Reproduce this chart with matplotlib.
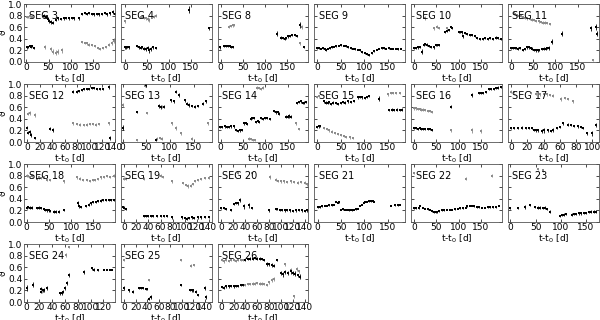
import matplotlib
matplotlib.use("Agg")
import matplotlib.pyplot as plt

# ---- data: (t, theta, err) for the black (primary) and gray (secondary) series ----
seg3_black = [(2,0.25,0.02),(5,0.26,0.02),(8,0.27,0.02),(11,0.26,0.02),(14,0.27,0.02),(18,0.24,0.02),
              (40,0.80,0.02),(45,0.78,0.02),(48,0.74,0.03),(52,0.71,0.03),(56,0.69,0.03),(60,0.68,0.03),
              (66,0.73,0.02),(72,0.75,0.02),(78,0.74,0.02),(84,0.75,0.02),(90,0.76,0.02),(96,0.75,0.02),
              (102,0.76,0.02),(108,0.75,0.02),(118,0.75,0.02),
              (126,0.83,0.02),(131,0.84,0.02),(136,0.83,0.02),(141,0.84,0.02),(147,0.83,0.02),(153,0.82,0.02),
              (158,0.83,0.02),(164,0.82,0.02),(170,0.83,0.02),(176,0.84,0.02),(182,0.82,0.02),
              (188,0.84,0.03),(194,0.86,0.04),(200,0.82,0.03),(206,0.84,0.04),(210,0.82,0.03)]
seg3_gray = [(1,0.77,0.02),(5,0.78,0.02),(9,0.79,0.02),(13,0.78,0.02),
             (42,0.26,0.03),(55,0.22,0.03),(60,0.18,0.04),(66,0.16,0.04),(72,0.18,0.04),(80,0.20,0.04),
             (126,0.35,0.02),(131,0.33,0.02),(136,0.32,0.02),(142,0.30,0.02),(148,0.29,0.02),(154,0.27,0.02),
             (160,0.24,0.02),(166,0.22,0.02),(172,0.24,0.02),(178,0.26,0.02),(185,0.30,0.03),(192,0.33,0.04),
             (198,0.37,0.04),(204,0.86,0.04),(208,0.78,0.04)]

seg4_black = [(0,0.25,0.02),(3,0.25,0.02),(6,0.26,0.02),(9,0.25,0.02),
              (28,0.27,0.02),(32,0.25,0.02),(36,0.24,0.02),(40,0.26,0.02),(44,0.23,0.03),(48,0.22,0.03),
              (52,0.24,0.03),(56,0.20,0.04),(60,0.22,0.03),(64,0.25,0.02),(70,0.24,0.02),
              (145,0.90,0.06),(190,0.58,0.02)]
seg4_gray = [(0,0.70,0.03),(36,0.78,0.02),(40,0.77,0.02),(44,0.76,0.02),(48,0.75,0.02),(52,0.74,0.03),
             (56,0.72,0.03),(66,0.78,0.03),(70,0.80,0.02)]

seg8_black = [(-1,0.25,0.02),(8,0.28,0.02),(12,0.28,0.02),(16,0.27,0.02),(20,0.27,0.02),(24,0.26,0.02),(28,0.26,0.02),
              (128,0.49,0.04),(136,0.42,0.02),(140,0.41,0.02),(144,0.40,0.02),(148,0.41,0.02),(152,0.44,0.02),
              (157,0.45,0.02),(162,0.46,0.02),(167,0.47,0.02),(172,0.45,0.02),(180,0.64,0.05),(188,0.26,0.02)]
seg8_gray = [(19,0.61,0.02),(23,0.62,0.02),(27,0.63,0.02),(30,0.64,0.02),(180,0.32,0.03),(184,0.60,0.03)]

seg9_black = [(0,0.24,0.01),(4,0.24,0.01),(8,0.23,0.01),(12,0.24,0.01),(16,0.22,0.01),(19,0.20,0.01),
              (24,0.23,0.01),(28,0.24,0.01),(32,0.25,0.01),(36,0.26,0.01),(41,0.27,0.01),(46,0.28,0.01),
              (51,0.29,0.01),(56,0.28,0.01),(61,0.27,0.01),(66,0.25,0.01),(71,0.24,0.01),(76,0.23,0.01),
              (81,0.22,0.01),(86,0.21,0.01),(91,0.20,0.01),(96,0.17,0.01),(101,0.15,0.01),(106,0.13,0.01),
              (111,0.12,0.01),(116,0.15,0.01),(121,0.19,0.01),(126,0.21,0.01),(131,0.23,0.01),(137,0.24,0.01),
              (142,0.24,0.01),(147,0.23,0.01),(152,0.24,0.01),(157,0.23,0.01),(162,0.23,0.01),(167,0.23,0.01),
              (172,0.22,0.01),(177,0.23,0.01)]
seg9_gray = []

seg10_black = [(0,0.24,0.02),(4,0.24,0.02),(8,0.25,0.02),(14,0.26,0.02),(17,0.18,0.04),(21,0.30,0.02),
               (25,0.31,0.02),(29,0.30,0.02),(33,0.28,0.02),(37,0.26,0.02),(44,0.25,0.02),(48,0.29,0.02),
               (52,0.29,0.02),(56,0.29,0.02),(70,0.52,0.02),(74,0.54,0.02),(78,0.55,0.02),(82,0.60,0.02),
               (86,0.59,0.02),(100,0.52,0.02),(104,0.52,0.02),(108,0.51,0.02),(111,0.44,0.02),(115,0.50,0.02),
               (120,0.48,0.02),(125,0.47,0.02),(130,0.47,0.02),(136,0.45,0.02),(142,0.41,0.02),(148,0.40,0.02),
               (154,0.40,0.02),(160,0.41,0.02),(166,0.40,0.02),(172,0.41,0.02),(178,0.40,0.02),(184,0.42,0.02),
               (190,0.41,0.02),(195,0.40,0.02)]
seg10_gray = [(24,0.76,0.03),(44,0.58,0.02),(51,0.61,0.02),(55,0.59,0.02),(74,0.58,0.02)]

seg11_black = [(0,0.24,0.02),(4,0.24,0.02),(8,0.24,0.02),(12,0.24,0.02),(16,0.23,0.02),(21,0.24,0.02),
               (28,0.21,0.02),(32,0.22,0.02),(36,0.25,0.02),(40,0.25,0.02),(44,0.24,0.02),(48,0.23,0.02),
               (52,0.21,0.02),(56,0.20,0.02),(60,0.20,0.02),(64,0.21,0.02),(70,0.22,0.02),(74,0.23,0.02),
               (78,0.22,0.02),(82,0.24,0.02),(86,0.24,0.03),(93,0.35,0.04),(115,0.49,0.04),(180,0.58,0.04),
               (191,0.60,0.05),(195,0.49,0.04)]
seg11_gray = [(6,0.84,0.02),(10,0.83,0.02),(14,0.81,0.02),(18,0.80,0.02),(22,0.79,0.02),(27,0.77,0.02),
              (32,0.76,0.02),(37,0.75,0.02),(42,0.74,0.02),(47,0.73,0.02),(52,0.72,0.02),(57,0.71,0.02),
              (62,0.70,0.02),(67,0.69,0.02),(72,0.68,0.02),(77,0.68,0.02),(82,0.67,0.02),(87,0.66,0.02),
              (184,0.03,0.02)]

seg12_black = [(0,0.25,0.02),(2,0.16,0.03),(4,0.17,0.03),(6,0.12,0.03),(12,0.07,0.02),(37,0.23,0.03),(41,0.21,0.03),
               (73,0.87,0.03),(79,0.87,0.02),(83,0.88,0.02),(87,0.90,0.02),(91,0.91,0.02),(95,0.92,0.02),
               (99,0.92,0.02),(103,0.93,0.02),(107,0.93,0.02),(111,0.92,0.02),(116,0.91,0.02),(121,0.92,0.02),
               (130,0.95,0.03),(132,0.07,0.03)]
seg12_gray = [(1,0.49,0.03),(4,0.50,0.03),(12,0.47,0.03),(73,0.32,0.03),(80,0.31,0.02),(85,0.30,0.02),
              (90,0.29,0.02),(95,0.30,0.02),(100,0.31,0.02),(105,0.31,0.02),(110,0.30,0.02),(115,0.31,0.02),
              (130,0.32,0.03)]

seg13_black = [(0,0.25,0.04),(30,0.52,0.02),(50,0.98,0.03),(70,0.04,0.02),(77,0.62,0.03),(82,0.60,0.03),
               (87,0.61,0.03),(103,0.72,0.03),(108,0.70,0.03),(113,0.87,0.03),(120,0.81,0.03),(131,0.72,0.03),
               (136,0.66,0.03),(141,0.64,0.03),(147,0.62,0.02),(153,0.61,0.02),(160,0.62,0.02),
               (170,0.66,0.03),(176,0.70,0.03)]
seg13_gray = [(0,0.64,0.04),(30,0.04,0.02),(48,0.97,0.02),(52,0.50,0.02),(72,0.06,0.02),(78,0.07,0.02),
              (84,0.06,0.02),(83,0.61,0.03),(105,0.32,0.03),(113,0.24,0.03),(123,0.15,0.03),(147,0.06,0.03),
              (180,0.32,0.03)]

seg14_black = [(-1,0.26,0.02),(4,0.26,0.02),(9,0.27,0.02),(14,0.26,0.02),(19,0.26,0.02),(24,0.27,0.02),(29,0.27,0.02),
               (34,0.21,0.02),(38,0.19,0.02),(43,0.20,0.02),(48,0.21,0.02),(52,0.32,0.02),(56,0.33,0.02),
               (60,0.31,0.02),(67,0.40,0.02),(71,0.42,0.02),(75,0.41,0.02),(79,0.35,0.02),(83,0.36,0.02),
               (86,0.34,0.02),(90,0.41,0.02),(95,0.40,0.02),(100,0.42,0.02),(105,0.41,0.02),(110,0.40,0.02),
               (120,0.53,0.02),(124,0.51,0.02),(128,0.52,0.02),(131,0.49,0.02),(146,0.44,0.02),(150,0.43,0.02),
               (154,0.45,0.03),(157,0.44,0.02),(172,0.67,0.02),(176,0.69,0.02),(180,0.70,0.02),(184,0.67,0.02),
               (188,0.68,0.02),(192,0.69,0.02)]
seg14_gray = [(64,0.06,0.02),(68,0.05,0.02),(72,0.04,0.02),(76,0.03,0.02),(82,0.94,0.02),(86,0.93,0.02),
              (90,0.92,0.02),(94,0.94,0.02),(170,0.32,0.02),(176,0.22,0.02)]

seg15_black = [(0,0.26,0.02),(3,0.27,0.02),(6,0.28,0.02),(14,0.70,0.02),(18,0.68,0.02),(22,0.67,0.02),
               (26,0.69,0.02),(30,0.66,0.02),(34,0.68,0.02),(40,0.67,0.02),(45,0.66,0.02),(50,0.67,0.02),
               (55,0.69,0.02),(60,0.68,0.02),(66,0.70,0.02),(72,0.69,0.02),(78,0.71,0.02),(86,0.77,0.02),
               (91,0.78,0.02),(96,0.77,0.02),(101,0.76,0.02),(106,0.78,0.02),(111,0.79,0.02),(131,0.75,0.04),
               (152,0.55,0.02),(158,0.56,0.02),(164,0.55,0.02),(170,0.56,0.02),(176,0.55,0.02),(181,0.56,0.02)]
seg15_gray = [(0,0.78,0.02),(4,0.79,0.02),(14,0.24,0.02),(20,0.22,0.02),(26,0.20,0.02),(32,0.18,0.02),
              (38,0.16,0.02),(44,0.14,0.02),(50,0.12,0.02),(56,0.10,0.02),(62,0.09,0.02),(70,0.08,0.02),
              (77,0.07,0.02),(150,0.82,0.02),(156,0.84,0.02),(162,0.84,0.02),(168,0.85,0.02),(176,0.84,0.02)]

seg16_black = [(0,0.24,0.02),(4,0.24,0.02),(8,0.23,0.02),(12,0.24,0.02),(16,0.23,0.02),(20,0.23,0.02),
               (25,0.22,0.02),(30,0.23,0.02),(35,0.22,0.02),(40,0.21,0.02),(82,0.61,0.02),(131,0.81,0.04),
               (146,0.84,0.02),(151,0.85,0.02),(156,0.84,0.02),(161,0.86,0.02),(169,0.91,0.02),(174,0.92,0.02),
               (179,0.92,0.02),(184,0.93,0.02),(189,0.94,0.02),(195,0.95,0.02)]
seg16_gray = [(0,0.58,0.02),(4,0.58,0.02),(8,0.57,0.02),(12,0.57,0.02),(16,0.56,0.02),(20,0.56,0.02),
              (25,0.55,0.02),(30,0.54,0.02),(35,0.53,0.02),(40,0.52,0.02),(82,0.20,0.02),(131,0.20,0.04),
              (150,0.19,0.04)]

seg17_black = [(0,0.24,0.02),(3,0.24,0.02),(8,0.24,0.02),(13,0.25,0.02),(18,0.24,0.02),(22,0.24,0.02),
               (26,0.24,0.02),(28,0.21,0.02),(30,0.20,0.03),(33,0.20,0.02),(38,0.19,0.03),(41,0.20,0.04),
               (45,0.20,0.02),(49,0.19,0.02),(52,0.21,0.03),(57,0.24,0.02),(60,0.26,0.02),(64,0.32,0.02),
               (70,0.30,0.02),(74,0.29,0.02),(78,0.28,0.02),(82,0.27,0.02),(86,0.26,0.02),(88,0.24,0.02),
               (94,0.15,0.03),(100,0.15,0.04),(104,0.29,0.03)]
seg17_gray = [(0,0.87,0.02),(3,0.86,0.02),(25,0.84,0.02),(30,0.83,0.02),(36,0.82,0.03),(40,0.83,0.02),
              (44,0.82,0.02),(48,0.81,0.02),(52,0.80,0.02),(62,0.74,0.03),(66,0.76,0.02),(70,0.74,0.02),
              (76,0.70,0.02)]

seg18_black = [(0,0.25,0.02),(4,0.26,0.02),(8,0.25,0.02),(11,0.25,0.02),(23,0.24,0.02),(28,0.25,0.02),
               (33,0.24,0.02),(38,0.23,0.02),(41,0.21,0.02),(45,0.20,0.02),(49,0.20,0.02),(53,0.19,0.02),
               (61,0.18,0.02),(66,0.18,0.02),(72,0.18,0.02),(83,0.21,0.02),(115,0.33,0.03),(118,0.27,0.03),
               (122,0.26,0.02),(133,0.28,0.02),(140,0.30,0.02),(145,0.32,0.02),(150,0.34,0.02),(155,0.35,0.02),
               (160,0.36,0.02),(166,0.37,0.02),(172,0.38,0.02),(178,0.38,0.02),(184,0.38,0.02),(190,0.38,0.02),
               (196,0.38,0.02)]
seg18_gray = [(0,0.80,0.02),(4,0.79,0.02),(8,0.78,0.02),(12,0.80,0.02),(23,0.74,0.02),(28,0.77,0.02),
              (33,0.76,0.02),(38,0.78,0.02),(45,0.73,0.02),(53,0.72,0.02),(83,0.70,0.02),(114,0.77,0.03),
              (120,0.75,0.03),(126,0.72,0.02),(136,0.72,0.02),(142,0.71,0.02),(148,0.73,0.02),(154,0.72,0.02),
              (160,0.74,0.02),(167,0.77,0.02),(174,0.78,0.02),(181,0.79,0.02),(188,0.78,0.02),(196,0.80,0.02)]

seg19_black = [(-3,0.26,0.02),(0,0.25,0.02),(3,0.23,0.02),(32,0.10,0.02),(36,0.11,0.02),(40,0.10,0.02),
               (44,0.11,0.02),(48,0.10,0.02),(54,0.10,0.02),(60,0.11,0.02),(66,0.10,0.02),(71,0.11,0.02),
               (79,0.08,0.02),(96,0.08,0.02),(100,0.07,0.02),(104,0.06,0.02),(108,0.07,0.02),(112,0.08,0.02),
               (116,0.07,0.02),(122,0.08,0.02),(128,0.08,0.02),(134,0.09,0.02),(140,0.09,0.02)]
seg19_gray = [(0,0.75,0.02),(3,0.74,0.02),(32,0.75,0.02),(60,0.80,0.02),(64,0.78,0.02),(79,0.70,0.03),
              (98,0.67,0.02),(102,0.64,0.02),(106,0.62,0.03),(110,0.63,0.02),(114,0.66,0.02),(118,0.71,0.02),
              (122,0.72,0.02),(128,0.74,0.02),(134,0.76,0.02),(140,0.76,0.02)]

seg20_black = [(0,0.24,0.02),(4,0.24,0.02),(8,0.23,0.02),(16,0.21,0.02),(21,0.31,0.02),(25,0.33,0.02),
               (29,0.32,0.02),(32,0.38,0.03),(38,0.27,0.04),(46,0.29,0.04),(52,0.24,0.02),(80,0.20,0.03),
               (91,0.23,0.02),(94,0.22,0.02),(98,0.21,0.02),(102,0.21,0.02),(106,0.20,0.02),(110,0.21,0.02),
               (115,0.20,0.02),(120,0.19,0.02),(125,0.20,0.02),(130,0.21,0.02),(135,0.20,0.02),(140,0.19,0.02),
               (144,0.20,0.02)]
seg20_gray = [(29,0.84,0.02),(52,0.84,0.03),(82,0.78,0.03),(91,0.73,0.03),(95,0.71,0.02),(100,0.70,0.02),
              (105,0.70,0.02),(110,0.69,0.02),(116,0.70,0.02),(122,0.69,0.02),(128,0.68,0.02),(134,0.69,0.02),
              (140,0.68,0.03),(144,0.65,0.03)]

seg21_black = [(0,0.26,0.01),(5,0.26,0.01),(10,0.27,0.01),(15,0.28,0.01),(21,0.28,0.01),(25,0.29,0.01),
               (30,0.29,0.01),(36,0.30,0.01),(39,0.35,0.01),(43,0.33,0.01),(46,0.34,0.01),(50,0.21,0.01),
               (54,0.22,0.01),(58,0.21,0.01),(62,0.21,0.01),(66,0.20,0.01),(70,0.21,0.01),(74,0.20,0.01),
               (78,0.21,0.01),(82,0.22,0.01),(86,0.23,0.01),(90,0.28,0.01),(94,0.30,0.01),(98,0.33,0.01),
               (102,0.35,0.01),(106,0.35,0.01),(110,0.36,0.01),(114,0.36,0.01),(118,0.36,0.01),(121,0.35,0.01),
               (157,0.28,0.01),(165,0.29,0.01),(171,0.29,0.01),(176,0.30,0.01)]
seg21_gray = []

seg22_black = [(0,0.24,0.01),(5,0.24,0.01),(10,0.24,0.01),(14,0.28,0.01),(20,0.25,0.01),(25,0.23,0.01),
               (30,0.22,0.01),(35,0.21,0.01),(40,0.19,0.01),(44,0.17,0.01),(48,0.17,0.01),(52,0.17,0.01),
               (56,0.19,0.01),(62,0.20,0.01),(68,0.20,0.01),(74,0.21,0.01),(80,0.21,0.01),(86,0.21,0.01),
               (92,0.22,0.01),(98,0.23,0.01),(104,0.24,0.01),(110,0.24,0.01),(116,0.25,0.01),(120,0.27,0.01),
               (125,0.28,0.01),(130,0.28,0.01),(135,0.27,0.01),(141,0.26,0.01),(147,0.26,0.01),(153,0.25,0.01),
               (160,0.25,0.01),(166,0.26,0.01),(172,0.26,0.01),(178,0.26,0.01),(185,0.26,0.01),(192,0.28,0.01)]
seg22_gray = [(0,0.84,0.02),(116,0.75,0.03),(176,0.80,0.03)]

seg23_black = [(0,0.24,0.02),(15,0.24,0.02),(29,0.26,0.04),(39,0.29,0.02),(49,0.26,0.02),(54,0.25,0.02),
               (59,0.25,0.02),(64,0.24,0.02),(68,0.25,0.02),(72,0.23,0.02),(79,0.18,0.02),(99,0.11,0.02),
               (103,0.12,0.02),(107,0.13,0.02),(111,0.14,0.02),(122,0.13,0.02),(126,0.14,0.02),(131,0.14,0.02),
               (136,0.15,0.02),(141,0.15,0.02),(146,0.16,0.02),(151,0.16,0.02),(156,0.17,0.02),(161,0.18,0.02),
               (166,0.18,0.02),(171,0.18,0.02)]
seg23_gray = [(55,0.92,0.02),(65,0.89,0.03)]

seg24_black = [(0,0.24,0.05),(10,0.30,0.04),(22,0.22,0.04),(23,0.18,0.03),(25,0.20,0.03),(27,0.21,0.03),
               (32,0.24,0.03),(53,0.15,0.03),(55,0.16,0.03),(57,0.18,0.03),(60,0.24,0.03),(63,0.33,0.03),
               (66,0.47,0.03),(90,0.52,0.03),(103,0.58,0.03),(106,0.56,0.02),(111,0.55,0.02),(121,0.56,0.01),
               (126,0.56,0.01),(130,0.56,0.01),(134,0.56,0.01)]
seg24_gray = [(24,0.20,0.04),(61,0.81,0.04),(66,0.95,0.02)]

seg25_black = [(0,0.24,0.03),(8,0.20,0.02),(16,0.18,0.02),(25,0.24,0.02),(29,0.24,0.02),(33,0.24,0.02),
               (37,0.23,0.02),(40,0.23,0.02),(43,0.06,0.02),(46,0.09,0.03),(99,0.29,0.02),(114,0.21,0.02),
               (117,0.20,0.02),(120,0.20,0.02),(124,0.18,0.02),(128,0.12,0.02),(140,0.24,0.03),(143,0.09,0.03)]
seg25_gray = [(0,0.72,0.02),(43,0.38,0.02),(99,0.72,0.02),(116,0.63,0.02),(121,0.64,0.02)]

seg26_black = [(0,0.26,0.02),(4,0.25,0.02),(8,0.27,0.02),(12,0.27,0.02),(16,0.28,0.02),(20,0.27,0.02),
               (24,0.28,0.02),(28,0.28,0.02),(32,0.29,0.02),(36,0.29,0.02),(40,0.73,0.02),(44,0.74,0.02),
               (48,0.75,0.02),(52,0.75,0.02),(56,0.76,0.02),(60,0.75,0.02),(64,0.75,0.02),(68,0.74,0.02),
               (72,0.73,0.02),(76,0.66,0.03),(80,0.65,0.03),(84,0.64,0.03),(88,0.63,0.03),(93,0.72,0.02),
               (99,0.50,0.04),(103,0.48,0.04),(107,0.52,0.04),(111,0.50,0.03),(116,0.53,0.04),(120,0.50,0.03),
               (124,0.49,0.04),(128,0.46,0.03),(132,0.44,0.04)]
seg26_gray = [(0,0.72,0.02),(4,0.70,0.02),(8,0.72,0.02),(12,0.71,0.02),(16,0.72,0.02),(20,0.72,0.02),
              (24,0.71,0.02),(28,0.72,0.02),(32,0.72,0.02),(36,0.73,0.02),(40,0.30,0.02),(44,0.31,0.02),
              (48,0.31,0.02),(52,0.32,0.02),(56,0.32,0.02),(60,0.33,0.02),(64,0.32,0.02),(68,0.32,0.02),
              (72,0.31,0.02),(76,0.30,0.02),(80,0.34,0.03),(84,0.38,0.03),(88,0.40,0.03),(107,0.65,0.03),
              (116,0.55,0.03),(121,0.10,0.03),(126,0.57,0.03),(130,0.53,0.03)]

seg_names = ["SEG 3", "SEG 4", "SEG 8", "SEG 9", "SEG 10", "SEG 11",
             "SEG 12", "SEG 13", "SEG 14", "SEG 15", "SEG 16", "SEG 17",
             "SEG 18", "SEG 19", "SEG 20", "SEG 21", "SEG 22", "SEG 23",
             "SEG 24", "SEG 25", "SEG 26"]
seg_black = [seg3_black, seg4_black, seg8_black, seg9_black, seg10_black, seg11_black,
             seg12_black, seg13_black, seg14_black, seg15_black, seg16_black, seg17_black,
             seg18_black, seg19_black, seg20_black, seg21_black, seg22_black, seg23_black,
             seg24_black, seg25_black, seg26_black]
seg_gray = [seg3_gray, seg4_gray, seg8_gray, seg9_gray, seg10_gray, seg11_gray,
            seg12_gray, seg13_gray, seg14_gray, seg15_gray, seg16_gray, seg17_gray,
            seg18_gray, seg19_gray, seg20_gray, seg21_gray, seg22_gray, seg23_gray,
            seg24_gray, seg25_gray, seg26_gray]
seg_xlim = [(-5, 199), (-9, 197), (-7, 198), (-6, 187), (-7, 198), (-7, 198),
            (-5, 140), (-4, 188), (-7, 197), (-6, 187), (-7, 198), (-4, 108),
            (-6, 198), (-6, 145), (-6, 146), (-7, 187), (-7, 198), (-5, 176),
            (-4, 138), (-6, 152), (-7, 146)]
seg_xstep = [50, 50, 50, 50, 50, 50,
             20, 50, 50, 50, 50, 20,
             50, 20, 20, 50, 50, 50,
             20, 20, 20]

plt.rcParams['font.family'] = ['DejaVu Sans']
plt.rcParams['font.size'] = 6.5
plt.rcParams['mathtext.default'] = 'regular'

fig = plt.figure(figsize=(6, 3.2), dpi=100)
gs = fig.add_gridspec(4, 6, left=0.04, right=0.998, top=0.9875, bottom=0.056,
                      wspace=0.065, hspace=0.38)

for i, name in enumerate(seg_names):
    r, c = divmod(i, 6)
    ax = fig.add_subplot(gs[r, c])
    g = seg_gray[i]
    b = seg_black[i]
    if g:
        ax.errorbar([p[0] for p in g], [p[1] for p in g], yerr=[p[2] for p in g],
                    fmt='s', ms=1.6, color='#8c8c8c', ecolor='#8c8c8c', elinewidth=0.6,
                    capsize=1.2, capthick=0.6, mew=0)
    ax.errorbar([p[0] for p in b], [p[1] for p in b], yerr=[p[2] for p in b],
                fmt='s', ms=1.6, color='black', ecolor='black', elinewidth=0.6,
                capsize=1.2, capthick=0.6, mew=0)
    ax.set_xlim(*seg_xlim[i])
    ax.set_ylim(0, 1)
    step = seg_xstep[i]
    ax.set_xticks(list(range(0, int(seg_xlim[i][1]) + 1, step)))
    ax.set_yticks([0.0, 0.2, 0.4, 0.6, 0.8, 1.0])
    ax.tick_params(direction='in', length=2.5, width=0.5, top=True, right=True,
                   labelsize=6.5, pad=1.0)
    for s in ax.spines.values():
        s.set_linewidth(0.6)
        s.set_color('#555555')
    if c == 0:
        ax.set_ylabel(r'$\vartheta$', fontsize=6.5)
        ax.yaxis.set_label_coords(-0.175, 0.5)
    else:
        ax.set_yticklabels([])
    ax.set_xlabel(r't-t$_0$ [d]', fontsize=6.5, labelpad=0)
    ax.text(0.05, 0.88, name, transform=ax.transAxes, fontsize=7, va='top', ha='left')

fig.savefig('out.png', dpi=100)
